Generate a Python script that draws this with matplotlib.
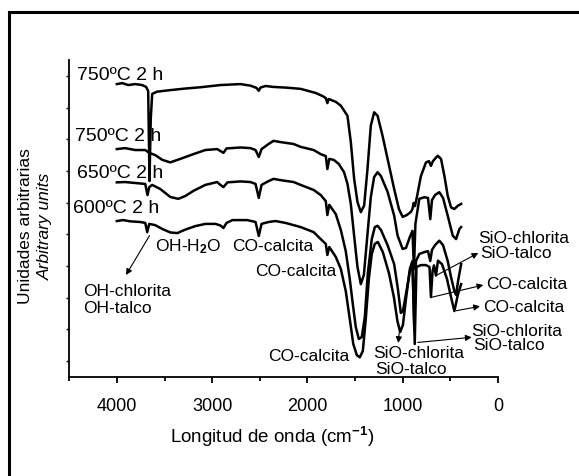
import matplotlib
matplotlib.use("Agg")
import matplotlib.pyplot as plt
from matplotlib.lines import Line2D

plt.rcParams["font.family"] = ["Liberation Sans", "DejaVu Sans"]
plt.rcParams["mathtext.fontset"] = "custom"
plt.rcParams["mathtext.rm"] = "Liberation Sans"
plt.rcParams["mathtext.bf"] = "Liberation Sans:bold"
plt.rcParams["mathtext.it"] = "Liberation Sans:italic"

W, H = 579, 477

# FTIR spectra (wavenumber in cm-1, intensity in arbitrary units, offset)
wn_750a = [4001, 3945, 3882, 3808, 3735, 3693, 3672, 3658, 3645, 3630, 3580, 3440,
           3282, 3124, 2913, 2703, 2598, 2535, 2511, 2493, 2440, 2356, 2230, 2072,
           1914, 1840, 1808, 1791, 1777, 1703, 1650, 1580, 1545, 1510, 1475, 1440,
           1405, 1370, 1335, 1300, 1264, 1212, 1159, 1090, 1040, 1001, 956, 914,
           898, 885, 872, 851, 809, 756, 725, 704, 683, 633, 598, 563, 528, 493,
           458, 422, 387]
int_750a = [92.4, 92.7, 92.1, 92.4, 92.1, 91.5, 90.2, 61.8, 81.4, 89.3, 90.0, 90.5,
            91.0, 91.4, 92.1, 92.4, 91.9, 91.2, 90.3, 91.3, 91.8, 91.5, 91.3, 90.9,
            89.6, 88.6, 88.0, 86.4, 87.7, 86.8, 85.6, 82.4, 74.1, 62.5, 55.2, 52.0,
            54.1, 65.6, 79.3, 83.5, 82.4, 76.1, 68.8, 59.3, 53.0, 50.5, 51.1, 52.1,
            53.0, 54.9, 53.9, 56.8, 63.4, 67.7, 68.1, 66.6, 68.1, 69.8, 68.8, 63.5,
            57.2, 53.5, 53.0, 54.0, 54.6]

wn_750b = [4001, 3914, 3808, 3703, 3661, 3598, 3524, 3440, 3335, 3198, 3072, 2948,
           2914, 2882, 2850, 2703, 2598, 2545, 2511, 2482, 2408, 2356, 2282, 2145,
           2072, 1935, 1861, 1808, 1791, 1771, 1724, 1671, 1616, 1580, 1545, 1510,
           1475, 1440, 1408, 1370, 1335, 1300, 1264, 1229, 1159, 1090, 1054, 1001,
           966, 925, 898, 882, 867, 826, 774, 735, 711, 693, 661, 616, 577, 528,
           475, 440, 405, 387]
int_750b = [71.9, 72.2, 71.6, 71.6, 70.7, 70.0, 68.5, 67.7, 68.8, 70.3, 71.6, 71.9,
            71.3, 70.7, 72.1, 72.4, 72.2, 71.6, 69.4, 71.9, 73.5, 74.5, 74.1, 73.5,
            72.6, 71.6, 70.3, 69.7, 65.6, 68.8, 68.5, 67.2, 64.6, 60.9, 54.6, 44.5,
            34.7, 29.3, 32.2, 45.1, 56.8, 63.1, 64.6, 63.4, 58.4, 50.9, 44.6, 40.4,
            40.7, 44.2, 46.1, 34.1, 48.3, 56.2, 56.7, 56.5, 49.8, 55.8, 57.4, 58.3,
            56.5, 50.9, 44.6, 43.5, 46.7, 47.3]

wn_650 = [4001, 3914, 3808, 3703, 3679, 3661, 3630, 3545, 3440, 3356, 3282, 3198,
          3072, 2948, 2914, 2882, 2840, 2703, 2598, 2545, 2511, 2482, 2408, 2356,
          2282, 2145, 2072, 1935, 1861, 1808, 1791, 1771, 1703, 1650, 1598, 1556,
          1524, 1493, 1461, 1430, 1398, 1367, 1325, 1293, 1264, 1229, 1159, 1090,
          1051, 1020, 998, 966, 925, 898, 879, 861, 826, 774, 735, 711, 693, 661,
          616, 577, 528, 493, 458, 440, 419, 387]
int_650 = [61.4, 61.5, 61.2, 60.9, 57.4, 59.9, 60.6, 59.3, 56.8, 56.2, 57.1, 58.7,
           60.6, 61.5, 60.6, 59.9, 61.4, 61.7, 61.5, 60.9, 56.5, 60.6, 61.8, 62.5,
           62.1, 61.5, 60.6, 59.0, 57.4, 55.5, 51.1, 54.3, 51.4, 46.4, 39.7, 30.9,
           23.0, 15.8, 12.0, 12.6, 18.9, 32.5, 43.5, 47.3, 47.7, 46.4, 41.6, 35.6,
           27.8, 20.2, 20.8, 26.2, 33.4, 36.0, 15.1, 36.6, 38.8, 39.4, 39.7, 36.6,
           40.1, 41.6, 43.0, 41.6, 36.6, 31.5, 27.1, 25.9, 30.3, 35.6]

wn_600 = [4001, 3935, 3861, 3756, 3703, 3682, 3661, 3598, 3524, 3440, 3366, 3282,
          3177, 3072, 2966, 2914, 2882, 2850, 2787, 2633, 2545, 2511, 2482, 2408,
          2335, 2230, 2072, 1935, 1861, 1808, 1791, 1771, 1703, 1650, 1598, 1556,
          1519, 1482, 1451, 1419, 1388, 1356, 1325, 1293, 1261, 1209, 1145, 1093,
          1056, 1027, 998, 966, 925, 898, 874, 856, 809, 756, 719, 704, 687, 672,
          651, 630, 588, 535, 493, 458, 422, 387]
int_600 = [49.2, 49.5, 49.1, 48.9, 48.6, 45.7, 48.3, 47.9, 46.7, 45.6, 45.4, 46.5,
           47.6, 48.3, 48.3, 47.8, 47.0, 48.6, 49.5, 49.5, 48.9, 44.5, 48.3, 48.9,
           49.2, 48.6, 47.3, 45.7, 43.5, 42.0, 38.5, 41.0, 37.9, 34.1, 27.1, 18.3,
           10.4, 6.9, 6.2, 8.2, 18.3, 30.9, 38.8, 42.0, 42.6, 39.4, 32.8, 25.2,
           17.7, 14.2, 16.4, 24.6, 34.1, 36.6, 10.4, 34.7, 35.3, 35.3, 34.7, 25.2,
           33.4, 35.2, 32.0, 36.7, 35.6, 30.9, 25.2, 20.8, 25.9, 29.3]

x_ticks = [4000, 3000, 2000, 1000, 0]
x_minor = [4500, 3500, 2500, 1500, 500]


def fpx(x, y):
    """pixel position in the picture -> figure fraction"""
    return x / W, 1 - y / H


fig = plt.figure(figsize=(W / 100, H / 100), dpi=100)
ax = fig.add_axes([69.3 / W, 1 - 378 / H, (498 - 69.3) / W, (378 - 61) / H])

for wn, inten in [(wn_750a, int_750a), (wn_750b, int_750b),
                  (wn_650, int_650), (wn_600, int_600)]:
    ax.plot(wn, inten, color="black", lw=1.8, solid_joinstyle="round")

ax.set_xlim(4500, 0)
ax.set_ylim(0, 100)
ax.spines["top"].set_visible(False)
ax.spines["right"].set_visible(False)
ax.spines["left"].set_linewidth(1.3)
ax.spines["bottom"].set_linewidth(1.3)
ax.set_xticks(x_ticks)
ax.set_xticklabels([str(t) for t in x_ticks], fontsize=13)
ax.set_xticks(x_minor, minor=True)
ax.tick_params(axis="x", which="major", length=4.5, width=1.3, pad=10)
ax.tick_params(axis="x", which="minor", length=3, width=1.3)
ax.set_yticks(range(5, 100, 10))
ax.set_yticklabels([])
ax.tick_params(axis="y", length=2, width=1)

fig.text(*fpx(272, 437), r"Longitud de onda (cm$^{\mathbf{-1}}$)",
         ha="center", va="center", fontsize=13.5)
fig.text(*fpx(26, 226), "Unidades arbitrarias", rotation=90,
         ha="center", va="center", fontsize=12.5)
fig.text(*fpx(45, 226), "Arbitrary units", rotation=90, style="italic",
         ha="center", va="center", fontsize=12.5)

# sample labels
for (x, y), s in zip([(76.7, 76), (75, 136.7), (77.3, 173.3), (73.3, 209)],
                     ["750ºC 2 h", "750ºC 2 h", "650ºC 2 h", "600ºC 2 h"]):
    fig.text(*fpx(x, y), s, ha="left", va="center", fontsize=14)

# band assignments
notes = [
    ((82.7, 291.7), "OH-chlorita"), ((82.7, 308.3), "OH-talco"),
    ((155, 246.7), r"OH-H$_{\mathbf{2}}$O"), ((231.7, 246.7), "CO-calcita"),
    ((255, 271.7), "CO-calcita"), ((268, 356.7), "CO-calcita"),
    ((372.7, 354), "SiO-chlorita"), ((375, 369.3), "SiO-talco"),
    ((470.7, 331.7), "SiO-chlorita"), ((472.7, 346), "SiO-talco"),
    ((486, 285), "CO-calcita"), ((483, 307.3), "CO-calcita"),
    ((478, 238.3), "SiO-chlorita"), ((480, 254), "SiO-talco"),
]
for (x, y), s in notes:
    fig.text(*fpx(x, y), s, ha="left", va="center", fontsize=12.5)

arrows = [
    ((3658, 44.6), (126, 276)),
    ((1037, 14.0), (398.3, 344)),
    ((843, 10.9), (471.7, 338.3)),
    ((704, 25.1), (483.3, 286)),
    ((440, 20.9), (480, 307.3)),
    ((651, 32.0), (478.3, 254)),
]
for tail, head in arrows:
    ax.annotate("", xy=fpx(*head), xycoords="figure fraction",
                xytext=tail, textcoords="data", annotation_clip=False,
                arrowprops=dict(arrowstyle="-|>", lw=0.8, color="black",
                                mutation_scale=9, shrinkA=0, shrinkB=0))

# frame of the original picture (top and left edges)
fig.add_artist(Line2D([9 / W, 1], [1 - 13 / H, 1 - 13 / H],
                      transform=fig.transFigure, color="black", lw=2.2))
fig.add_artist(Line2D([9 / W, 9 / W], [0, 1 - 13 / H],
                      transform=fig.transFigure, color="black", lw=2.2))

fig.savefig("out.png", dpi=100)
